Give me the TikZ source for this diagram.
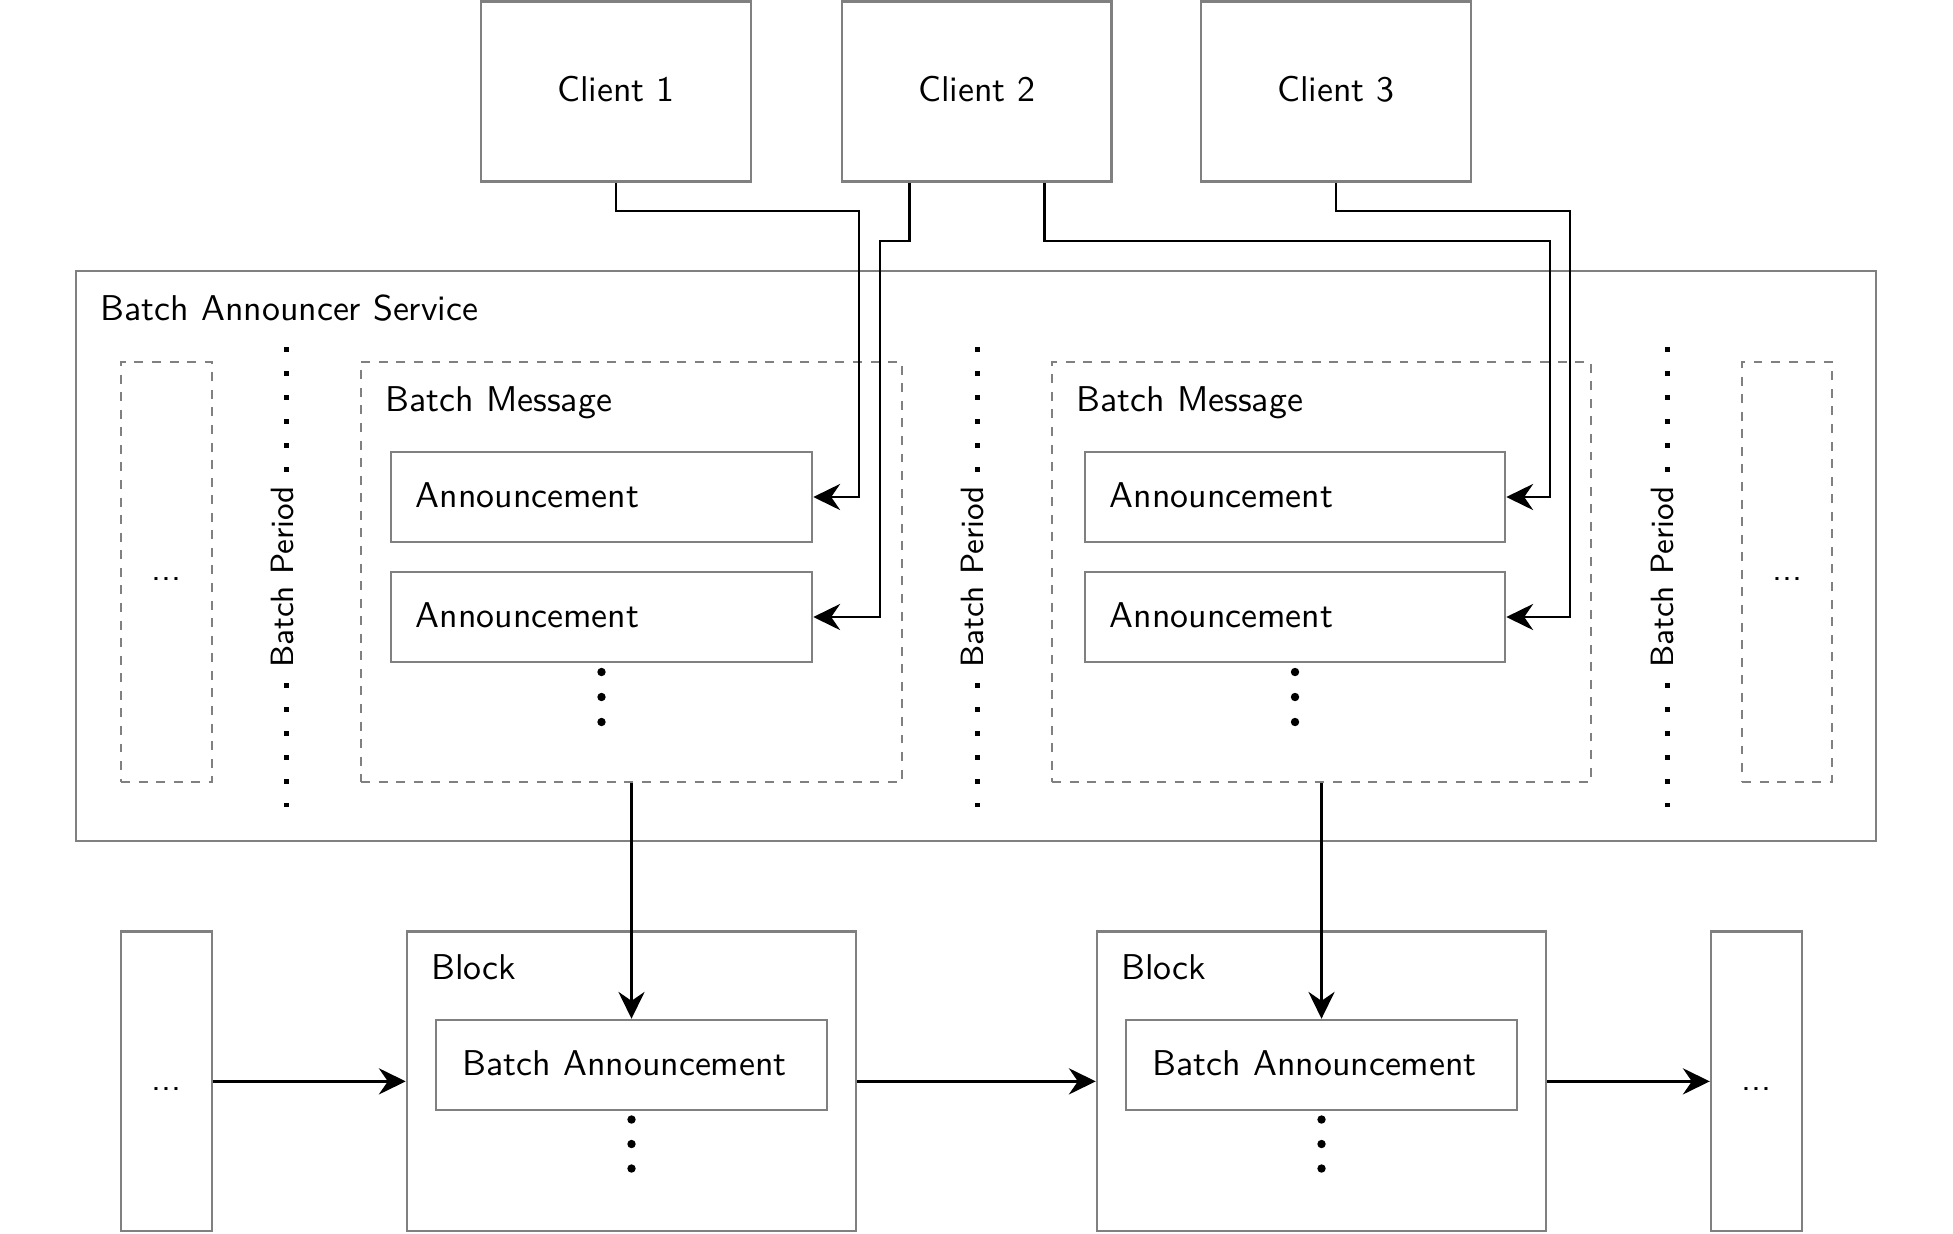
\documentclass[tikz,border=0pt]{standalone}
\usetikzlibrary{arrows.meta}
\renewcommand{\familydefault}{\sfdefault}
\definecolor{boxgray}{HTML}{808080}
\def\pxu{0.279pt}
\tikzset{
  graybox/.style={draw=boxgray, line width=0.7pt, rectangle, inner sep=0pt, font=\sffamily},
  dashbox/.style={graybox, dash pattern=on 2.5pt off 2.4pt},
  wire/.style={draw=black, line width=0.75pt, -{Stealth[length=7.5pt,width=7.3pt,inset=2.5pt]}},
  bpline/.style={draw=black, line width=1.4pt, dash pattern=on 1.4pt off 5.3pt},
  bplabel/.style={fill=white, rotate=90, inner xsep=3pt, inner ysep=2pt, font=\sffamily\small},
  lbl/.style={anchor=base west, inner sep=0pt, font=\sffamily},
  ctr/.style={anchor=base, inner sep=0pt, font=\sffamily},
  vdot/.style={fill=black},
}
% #1 style, #2 x1, #3 y1, #4 x2, #5 y2, #6 name, #7 text
\newcommand\pbox[7]{\node[#1, minimum width={(#4-#2)*\pxu}, minimum height={(#5-#3)*\pxu}] (#6) at ({(#2+#4)/2},{(#3+#5)/2}) {#7};}
\begin{document}
\begin{tikzpicture}[x=\pxu, y=-\pxu]
\useasboundingbox (0,0) rectangle (1953,1233);

% clients
\pbox{graybox}{481}{1.7}{751}{181.7}{c1}{}
\node[ctr] (c1lbl) at (616,101.5) {Client 1};
\pbox{graybox}{842}{1.7}{1111.5}{181.7}{c2}{}
\node[ctr] (c2lbl) at (976.75,101.5) {Client 2};
\pbox{graybox}{1201}{1.7}{1471}{181.7}{c3}{}
\node[ctr] (c3lbl) at (1336,101.5) {Client 3};

% service
\pbox{graybox}{76}{271}{1876}{841}{svc}{}
\node[lbl] (svclbl) at (100,320.7) {Batch Announcer Service};

% left / right dashed boxes
\pbox{dashbox}{121}{362}{212}{782}{dl}{}
\node[ctr] (dltxt) at (166.5,580.5) {...};
\pbox{dashbox}{1742}{362}{1832}{782}{dr}{}
\node[ctr] (drtxt) at (1787,580.5) {...};

% batch period lines
\coordinate (bp1t) at (286.6,347); \coordinate (bp1b) at (286.6,807);
\draw[bpline] (bp1t) -- (bp1b);
\node[bplabel] (bp1) at (282,577) {Batch Period};
\coordinate (bp2t) at (977,347); \coordinate (bp2b) at (977,807);
\draw[bpline] (bp2t) -- (bp2b);
\node[bplabel] (bp2) at (972.4,577) {Batch Period};
\coordinate (bp3t) at (1667,347); \coordinate (bp3b) at (1667,807);
\draw[bpline] (bp3t) -- (bp3b);
\node[bplabel] (bp3) at (1662.4,577) {Batch Period};

% batch messages
\pbox{dashbox}{361}{362}{902}{782}{bm1}{}
\node[lbl] (bm1lbl) at (385,411) {Batch Message};
\pbox{graybox}{391}{452}{812}{542}{a1}{}
\node[lbl] (a1lbl) at (415,507) {Announcement};
\pbox{graybox}{391}{572}{812}{662}{a2}{}
\node[lbl] (a2lbl) at (415,627) {Announcement};
\foreach \yy in {672,697,722} \fill[vdot] (601.5,\yy) circle[radius=4.2];

\pbox{dashbox}{1052}{362}{1591}{782}{bm2}{}
\node[lbl] (bm2lbl) at (1076,411) {Batch Message};
\pbox{graybox}{1085}{452}{1505}{542}{a3}{}
\node[lbl] (a3lbl) at (1109,507) {Announcement};
\pbox{graybox}{1085}{572}{1505}{662}{a4}{}
\node[lbl] (a4lbl) at (1109,627) {Announcement};
\foreach \yy in {672,697,722} \fill[vdot] (1295,\yy) circle[radius=4.2];

% blocks
\pbox{graybox}{121}{931.7}{212}{1231}{lb}{}
\node[ctr] (lbtxt) at (166.5,1090) {...};
\pbox{graybox}{1711}{931.7}{1802}{1231}{rb}{}
\node[ctr] (rbtxt) at (1756.5,1090) {...};

\pbox{graybox}{407}{931.7}{856}{1231}{b1}{}
\node[lbl] (b1lbl) at (430.5,979.5) {Block};
\pbox{graybox}{436}{1020}{827}{1110}{ba1}{}
\node[lbl] (ba1lbl) at (462,1075) {Batch Announcement};
\foreach \yy in {1119.5,1144,1168.5} \fill[vdot] (631.5,\yy) circle[radius=4.2];

\pbox{graybox}{1097}{931.7}{1546}{1231}{b2}{}
\node[lbl] (b2lbl) at (1120.5,979.5) {Block};
\pbox{graybox}{1126}{1020}{1517}{1110}{ba2}{}
\node[lbl] (ba2lbl) at (1152,1075) {Batch Announcement};
\foreach \yy in {1119.5,1144,1168.5} \fill[vdot] (1321.5,\yy) circle[radius=4.2];

% wires from clients
\draw[wire] (c1.south) |- (859,211) |- (a1.east);
\draw[wire] ([xshift=-18.83pt]c2.south) |- (880,241) |- (a2.east);
\draw[wire] ([xshift=18.83pt]c2.south) |- (1550,241) |- (a3.east);
\draw[wire] (c3.south) |- (1570,211) |- (a4.east);

% batch messages to blocks
\draw[wire] (bm1.south) -- (ba1.north);
\draw[wire] (bm2.south) -- (ba2.north);

% chain
\draw[wire] (lb.east) -- (b1.west);
\draw[wire] (b1.east) -- (b2.west);
\draw[wire] (b2.east) -- (rb.west);
\end{tikzpicture}
\end{document}
